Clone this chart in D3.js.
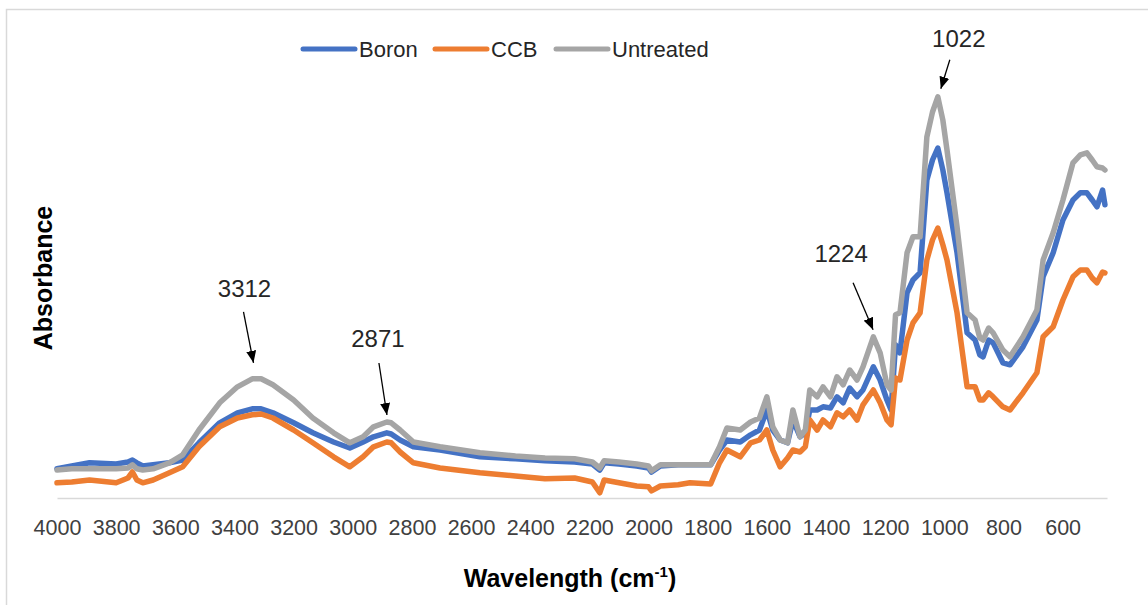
<!DOCTYPE html>
<html>
<head>
<meta charset="utf-8">
<script src="https://cdn.jsdelivr.net/npm/d3@7"></script>
<style>
  body { margin: 0; background: #fff; }
  svg { display: block; font-family: "Liberation Sans", Arial, sans-serif; }
</style>
</head>
<body>
<svg width="1148" height="605"></svg>
<script>
// FTIR spectra, wavenumber in cm-1, absorbance (a.u.)
const wavenumber = [
  4000, 3950, 3890, 3800, 3760, 3745, 3730, 3710, 3675, 3620,
  3575, 3520, 3450, 3390, 3340, 3310, 3270, 3200, 3135, 3065,
  3010, 2965, 2930, 2885, 2870, 2840, 2795, 2705, 2570, 2450,
  2350, 2250, 2190, 2165, 2150, 2100, 2040, 2000, 1990, 1960,
  1900, 1860, 1790, 1760, 1735, 1690, 1655, 1625, 1600, 1580,
  1555, 1530, 1512, 1488, 1470, 1455, 1430, 1410, 1385, 1363,
  1342, 1320, 1295, 1275, 1240, 1217, 1194, 1180, 1165, 1150,
  1126, 1106, 1082, 1059, 1040, 1022, 1005, 991, 957, 923,
  896, 880, 869, 850, 835, 802, 778, 734, 687, 666,
  632, 599, 565, 540, 518, 500, 484, 465, 457
];
const boron = [
  0.073, 0.080, 0.088, 0.085, 0.090, 0.095, 0.088, 0.080, 0.083, 0.088,
  0.095, 0.138, 0.188, 0.213, 0.223, 0.223, 0.213, 0.188, 0.163, 0.140,
  0.125, 0.140, 0.153, 0.163, 0.160, 0.145, 0.128, 0.120, 0.103, 0.098,
  0.093, 0.090, 0.085, 0.070, 0.088, 0.085, 0.080, 0.075, 0.065, 0.080,
  0.083, 0.083, 0.083, 0.120, 0.145, 0.140, 0.158, 0.170, 0.220, 0.170,
  0.145, 0.138, 0.195, 0.153, 0.163, 0.220, 0.220, 0.228, 0.225, 0.253,
  0.238, 0.275, 0.253, 0.270, 0.328, 0.295, 0.245, 0.220, 0.383, 0.363,
  0.513, 0.545, 0.563, 0.795, 0.845, 0.875, 0.820, 0.763, 0.613, 0.413,
  0.395, 0.358, 0.353, 0.395, 0.388, 0.338, 0.333, 0.378, 0.445, 0.553,
  0.613, 0.695, 0.745, 0.763, 0.763, 0.745, 0.728, 0.770, 0.733
];
const ccb = [
  0.038, 0.040, 0.045, 0.038, 0.050, 0.065, 0.045, 0.038, 0.045, 0.063,
  0.078, 0.128, 0.178, 0.200, 0.208, 0.210, 0.200, 0.170, 0.138, 0.103,
  0.078, 0.103, 0.128, 0.140, 0.138, 0.115, 0.088, 0.075, 0.063, 0.055,
  0.048, 0.050, 0.040, 0.013, 0.045, 0.038, 0.030, 0.028, 0.018, 0.030,
  0.033, 0.038, 0.035, 0.088, 0.120, 0.103, 0.138, 0.145, 0.170, 0.120,
  0.078, 0.100, 0.120, 0.115, 0.128, 0.195, 0.170, 0.195, 0.178, 0.213,
  0.203, 0.220, 0.195, 0.233, 0.270, 0.238, 0.195, 0.183, 0.300, 0.295,
  0.395, 0.438, 0.463, 0.595, 0.645, 0.675, 0.633, 0.595, 0.463, 0.278,
  0.278, 0.245, 0.245, 0.263, 0.253, 0.228, 0.220, 0.263, 0.313, 0.403,
  0.428, 0.495, 0.553, 0.570, 0.570, 0.550, 0.538, 0.565, 0.563
];
const untreated = [
  0.070, 0.073, 0.073, 0.073, 0.075, 0.083, 0.073, 0.070, 0.073, 0.088,
  0.108, 0.170, 0.238, 0.278, 0.298, 0.298, 0.283, 0.245, 0.200, 0.163,
  0.138, 0.153, 0.178, 0.190, 0.188, 0.170, 0.140, 0.128, 0.113, 0.105,
  0.100, 0.098, 0.090, 0.075, 0.093, 0.090, 0.085, 0.080, 0.068, 0.083,
  0.083, 0.083, 0.083, 0.128, 0.175, 0.170, 0.190, 0.200, 0.253, 0.178,
  0.145, 0.138, 0.220, 0.153, 0.170, 0.270, 0.253, 0.278, 0.253, 0.303,
  0.283, 0.320, 0.295, 0.328, 0.403, 0.363, 0.283, 0.270, 0.458, 0.463,
  0.613, 0.653, 0.653, 0.903, 0.965, 1.003, 0.945, 0.870, 0.678, 0.463,
  0.445, 0.400, 0.395, 0.425, 0.413, 0.370, 0.353, 0.403, 0.470, 0.595,
  0.663, 0.745, 0.838, 0.858, 0.863, 0.845, 0.828, 0.825, 0.820
];
const seriesNames = ['Boron', 'CCB', 'Untreated'];
const xTicks = d3.range(4000, 599, -200);
const peakLabels = ['3312', '2871', '1224', '1022'];

const svg = d3.select('svg');
const width = 1148;
const height = 605;
const margin = { top: 18, right: 41, bottom: 107, left: 57 };

const color = d3.scaleOrdinal()
  .domain(seriesNames)
  .range(['#4472C4', '#ED7D31', '#A5A5A5']);

const x = d3.scaleLinear()
  .domain([4000, 450])
  .range([margin.left, width - margin.right]);

const y = d3.scaleLinear()
  .domain([0, 1.2])
  .range([height - margin.bottom, margin.top]);

// chart border (Excel chart area)
svg.append('rect')
  .attr('x', 6.5).attr('y', 9.5)
  .attr('width', 1200).attr('height', 700)
  .attr('fill', 'none')
  .attr('stroke', '#d9d9d9')
  .attr('stroke-width', 1.5);

// x axis
const xAxisG = svg.append('g')
  .attr('transform', `translate(0,${y(0)})`)
  .call(d3.axisBottom(x).tickValues(xTicks).tickFormat(d3.format('d')).tickSize(0).tickPadding(0));
xAxisG.select('.domain').attr('stroke', '#d9d9d9').attr('stroke-width', 1.5);
xAxisG.selectAll('text')
  .attr('dy', null)
  .attr('y', 37)
  .attr('fill', '#404040')
  .style('font-size', '21.5px')
  .style('font-family', '"Liberation Sans", Arial, sans-serif');

// axis titles
const xTitle = svg.append('text')
  .attr('x', 570).attr('y', 587)
  .attr('text-anchor', 'middle')
  .attr('font-weight', 'bold')
  .attr('font-size', 25)
  .attr('fill', '#000');
xTitle.append('tspan').text('Wavelength (cm');
xTitle.append('tspan').text('-1').attr('font-size', 15).attr('dy', -10);
xTitle.append('tspan').text(')').attr('dy', 10);

svg.append('text')
  .attr('transform', 'translate(52,278) rotate(-90)')
  .attr('text-anchor', 'middle')
  .attr('font-weight', 'bold')
  .attr('font-size', 25)
  .attr('fill', '#000')
  .text('Absorbance');

// lines
const series = [
  { name: 'Boron', values: boron },
  { name: 'CCB', values: ccb },
  { name: 'Untreated', values: untreated }
];
const line = d3.line()
  .x((d, i) => x(wavenumber[i]))
  .y(d => y(d));

svg.append('g')
  .selectAll('path')
  .data(series)
  .enter()
  .append('path')
  .attr('d', d => line(d.values))
  .attr('fill', 'none')
  .attr('stroke', d => color(d.name))
  .attr('stroke-width', 5.5)
  .attr('stroke-linejoin', 'round')
  .attr('stroke-linecap', 'round');

// legend
const legendX = [303, 435, 556];
const legendG = svg.append('g').attr('transform', 'translate(0,49)');
seriesNames.forEach((name, i) => {
  legendG.append('line')
    .attr('x1', legendX[i]).attr('x2', legendX[i] + 52)
    .attr('y1', 0).attr('y2', 0)
    .attr('stroke', color(name))
    .attr('stroke-width', 5)
    .attr('stroke-linecap', 'round');
  legendG.append('text')
    .attr('x', legendX[i] + 56)
    .attr('y', 8)
    .attr('font-size', 22)
    .attr('fill', '#262626')
    .text(name);
});

// peak annotations with arrows
svg.append('defs').append('marker')
  .attr('id', 'arrow')
  .attr('viewBox', '0 0 12 10')
  .attr('refX', 12).attr('refY', 5)
  .attr('markerWidth', 12).attr('markerHeight', 10)
  .attr('markerUnits', 'userSpaceOnUse')
  .attr('orient', 'auto')
  .append('path')
  .attr('d', 'M0,0 L12,5 L0,10 Z')
  .attr('fill', '#000');

// offsets of arrow tip / arrow start / label from the peak (pixels)
const annoLayout = [
  { tip: [-7, -16], start: [-10, -51], text: [-9, -66] },
  { tip: [-4, -7], start: [-8, -52], text: [-9, -68] },
  { tip: [-5, -7], start: [-20, -47], text: [-32, -68] },
  { tip: [3, -8], start: [9, -29], text: [18, -42] }
];
const annoG = svg.append('g');
peakLabels.forEach((label, i) => {
  const w = +label;
  // highest untreated point near the labelled band
  let best = 0;
  wavenumber.forEach((wn, j) => {
    if (Math.abs(wn - w) <= 40 && untreated[j] > best) best = untreated[j];
  });
  const px = x(w);
  const py = y(best);
  const L = annoLayout[i];
  const tx = px + L.tip[0], ty = py + L.tip[1];
  annoG.append('line')
    .attr('x1', tx + L.start[0]).attr('y1', ty + L.start[1])
    .attr('x2', tx).attr('y2', ty)
    .attr('stroke', '#000')
    .attr('stroke-width', 1.3)
    .attr('marker-end', 'url(#arrow)');
  annoG.append('text')
    .attr('x', tx + L.text[0]).attr('y', ty + L.text[1])
    .attr('text-anchor', 'middle')
    .attr('font-size', 24)
    .attr('fill', '#262626')
    .text(label);
});
</script>
</body>
</html>
